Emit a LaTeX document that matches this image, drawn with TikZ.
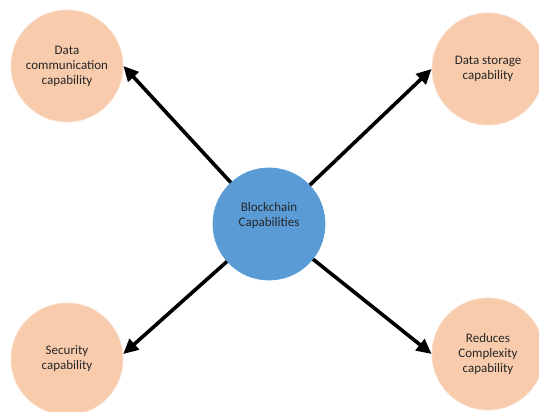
\documentclass[tikz,border=0pt]{standalone}
\usepackage{fontspec}
\setmainfont{Carlito}
\usetikzlibrary{arrows.meta}

\definecolor{peach}{HTML}{F8CBAD}
\definecolor{capblue}{HTML}{5B9BD5}
\definecolor{captext}{HTML}{262626}

\tikzset{
  capnode/.style={circle,fill=peach,draw=peach!70!white,line width=.8pt,
    minimum size=112pt,inner sep=0pt,align=center,text=captext,
    font=\fontsize{13}{15}\selectfont},
  hubnode/.style={capnode,fill=capblue,draw=capblue},
  caparrow/.style={line width=3.6pt,-{Triangle[length=15pt,width=14pt]}}
}

\begin{document}
\begin{tikzpicture}[x=1pt,y=1pt]

\useasboundingbox (0,0) rectangle (539,412);

% The hub in the middle
\node[hubnode] (hub) at (269,188) {Blockchain\\Capabilities\\[4pt]};

% The four capabilities round it
\node[capnode] (comm) at (67,346) {Data\\communication\\capability};
\node[capnode] (store) at (488,343) {Data storage\\capability};
\node[capnode] (secure) at (67,53) {Security\\capability};
\node[capnode] (reduce) at (488,58) {Reduces\\Complexity\\capability};

% Arrows from the hub out to each capability
\draw[caparrow] (hub) -- (comm.east);
\draw[caparrow] (hub) -- (store.west);
\draw[caparrow] (hub) -- (secure.5);
\draw[caparrow] (hub) -- (reduce.west);

\end{tikzpicture}
\end{document}
